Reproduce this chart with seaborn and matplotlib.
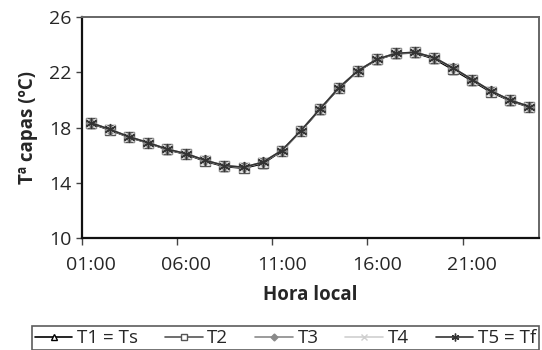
import seaborn as sns
import pandas as pd
import numpy as np
import matplotlib.pyplot as plt

hours = ['%02d:00' % h for h in range(1, 25)]
t1 = [18.30, 17.82, 17.30, 16.88, 16.40, 16.06, 15.56, 15.18, 15.06, 15.38, 16.30, 17.74,
      19.30, 20.86, 22.10, 22.92, 23.36, 23.42, 22.98, 22.20, 21.38, 20.56, 19.94, 19.48]
t2 = [18.33, 17.85, 17.32, 16.89, 16.42, 16.08, 15.60, 15.22, 15.10, 15.45, 16.32, 17.76,
      19.33, 20.88, 22.12, 22.95, 23.38, 23.45, 23.06, 22.28, 21.46, 20.62, 19.98, 19.52]
t3 = [18.34, 17.86, 17.33, 16.90, 16.43, 16.10, 15.62, 15.24, 15.12, 15.48, 16.33, 17.76,
      19.33, 20.88, 22.12, 22.95, 23.38, 23.45, 23.07, 22.31, 21.48, 20.64, 19.98, 19.52]
t4 = [18.35, 17.87, 17.34, 16.91, 16.44, 16.11, 15.63, 15.25, 15.13, 15.49, 16.34, 17.77,
      19.34, 20.89, 22.13, 22.96, 23.39, 23.46, 23.08, 22.32, 21.49, 20.65, 19.99, 19.53]
t5 = [18.35, 17.87, 17.34, 16.91, 16.44, 16.11, 15.63, 15.25, 15.13, 15.49, 16.34, 17.77,
      19.34, 20.89, 22.13, 22.96, 23.39, 23.46, 23.08, 22.32, 21.49, 20.65, 19.99, 19.53]

names = ['T1 = Ts', 'T2', 'T3', 'T4', 'T5 = Tf']
series = [t1, t2, t3, t4, t5]
colors = ['#000000', '#555555', '#8a8a8a', '#cfcfcf', '#333333']
markers = ['^', 's', 'D', 'x', (6, 2, 0)]
faces = ['white', 'white', '#8a8a8a', '#cfcfcf', '#333333']
sizes = [6, 6.5, 5, 7, 8]

sns.set_style('white')
plt.rcParams['font.family'] = ['Open Sans', 'DejaVu Sans']

fig = plt.figure(figsize=(5.42, 3.5), dpi=100)
ax = fig.add_axes([81.5 / 542, 1 - 238 / 350, (539 - 81.5) / 542, (238 - 17.3) / 350])

x = np.arange(len(hours))
for vals, name, col, mk, fc, ms in zip(series, names, colors, markers, faces, sizes):
    df = pd.DataFrame({'x': x, 'y': vals})
    sns.lineplot(data=df, x='x', y='y', ax=ax, color=col, marker=mk, markersize=ms,
                 markerfacecolor=fc, markeredgecolor=col, markeredgewidth=1,
                 linewidth=1.2, label=name, legend=False)

ax.set_xlim(-0.5, len(hours) - 0.5)
ax.set_ylim(10, 26)
ax.set_yticks([10, 14, 18, 22, 26])
ax.set_xticks(np.arange(-0.5, len(hours) - 0.5, 5))
ax.set_xticklabels([])
ax.set_xticks(x[::5], minor=True)
ax.set_xticklabels([hours[i] for i in x[::5]], minor=True)
ax.tick_params(axis='x', which='major', length=5, width=1, direction='out', bottom=True, color='#444444')
ax.tick_params(axis='x', which='minor', length=0, pad=13, labelsize=14)
ax.tick_params(axis='y', length=4, width=1, direction='out', left=True, pad=3, labelsize=14, color='#444444')

for side in ['left', 'bottom']:
    ax.spines[side].set_color('#111111')
    ax.spines[side].set_linewidth(1.6)
for side in ['top', 'right']:
    ax.spines[side].set_color('#666666')
    ax.spines[side].set_linewidth(1.4)

ax.set_xlabel('Hora local', fontsize=13.5, fontweight='bold', labelpad=8)
ax.set_ylabel('Tª capas (ºC)', fontsize=13.5, fontweight='bold', labelpad=8)

handles, labels = ax.get_legend_handles_labels()
leg = fig.legend(handles, labels, loc='lower left', bbox_to_anchor=(32 / 542, 0.0, (539 - 32) / 542, 22 / 350),
                 ncol=5, mode='expand', fontsize=13.5, frameon=True, fancybox=False,
                 handlelength=2.0, handletextpad=0.25, markerscale=0.7, borderpad=0.15,
                 borderaxespad=0)
leg.get_frame().set_edgecolor('#333333')
leg.get_frame().set_linewidth(1.2)

fig.savefig('out.png', dpi=100)
